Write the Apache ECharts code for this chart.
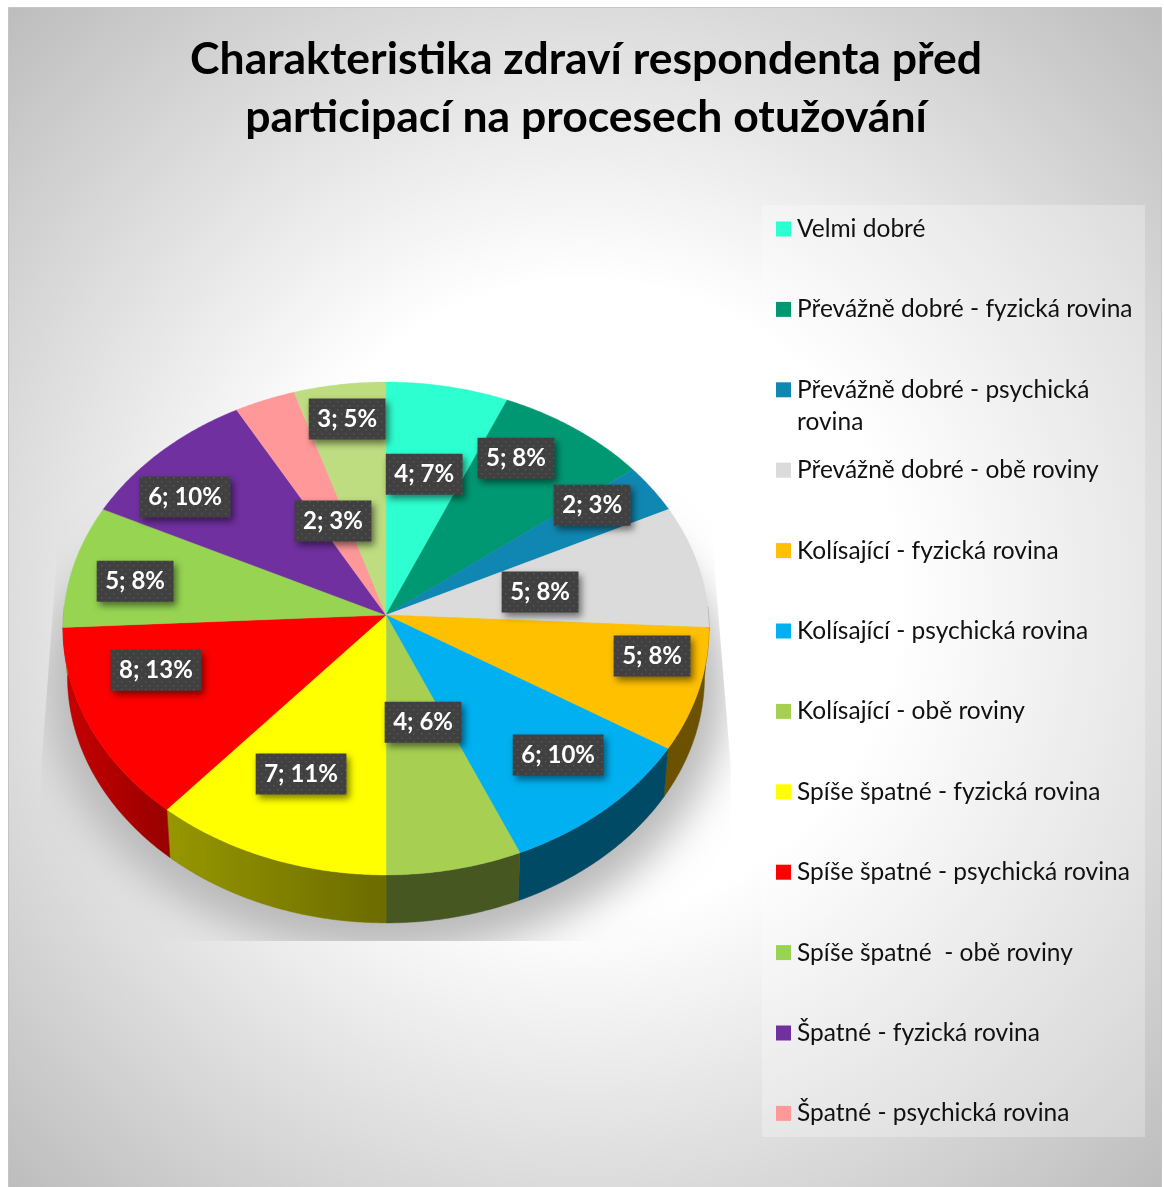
<!DOCTYPE html>
<html><head><meta charset="utf-8">
<script src="https://cdn.jsdelivr.net/npm/echarts@6/dist/echarts.min.js"></script>
<style>html,body{margin:0;padding:0;background:#fff}#c{width:1164px;height:1187px}</style>
</head><body><div id="c"></div>
<script>
const titleLines = ['Charakteristika zdraví respondenta před', 'participací na procesech otužování'];
const categories = ['Velmi dobré','Převážně dobré - fyzická rovina','Převážně dobré - psychická rovina','Převážně dobré - obě roviny','Kolísající - fyzická rovina','Kolísající - psychická rovina','Kolísající - obě roviny','Spíše špatné - fyzická rovina','Spíše špatné - psychická rovina','Spíše špatné  - obě roviny','Špatné - fyzická rovina','Špatné - psychická rovina','Špatné - obě roviny'];
const counts = [4,5,2,5,5,6,4,7,8,5,6,2,3];
const percents = [7,8,3,8,8,10,6,11,13,8,10,3,5];
const colors = ['#2DFFD0','#009873','#0F87B2','#DBDBDB','#FFC000','#00B0F0','#A7D052','#FFFF00','#FF0000','#96D452','#7030A0','#FF9999','#BEDC80'];
// label anchors: [angle in degrees, fraction of radius]
const labelAnchors = [[11,.62],[30.7,.788],[53.3,.796],[77.8,.488],[100.6,.838],[135.1,.755],[164.3,.424],[203.4,.662],[253.7,.742],[280.9,.791],[309.4,.805],[338.1,.44],[351.9,.854]];
const legendCount = 12;

const total = counts.reduce((a,b)=>a+b,0);
const P = {cx:386, cy:615, rx:322.5, rxBottom:318, ry:245.7, k:0.0547, depth:48, labelRx:323, labelUp:233, labelDown:260};
const FONT = 'Lato';
const RAD = Math.PI/180;
// perspective projection of the disc rim
function rimPt(t, rx, dy){ const c=Math.cos(t), s=Math.sin(t), d=1+P.k*c;
  return [P.cx+rx*s/d, P.cy+dy-P.ry*c/d]; }
function labelPt(t, r){ const c=Math.cos(t), s=Math.sin(t);
  return [P.cx+P.labelRx*r*s, P.cy+1-(c>=0?P.labelUp:P.labelDown)*r*c]; }
function shade(hex,k){ const n=parseInt(hex.slice(1),16);
  return 'rgb('+[(n>>16)&255,(n>>8)&255,n&255].map(v=>Math.round(v*k)).join(',')+')'; }
function wallK(t){ const d=t/RAD; return d<=180?0.42:Math.min(0.8,0.42+(d-180)*0.0042); }
// dotted label pattern
const pc=document.createElement('canvas'); pc.width=pc.height=8;
(function(){const g=pc.getContext('2d'); g.fillStyle='#404040'; g.fillRect(0,0,8,8); g.fillStyle='#5a5a5a';
  g.fillRect(1,1,1.4,1.4); g.fillRect(5,5,1.4,1.4);})();
const mc=document.createElement('canvas').getContext('2d'); mc.font='bold 24px '+FONT;

function renderSlice(params, api){
  const i=params.seriesIndex, start=api.value(0), val=api.value(1);
  const a0=start/total*2*Math.PI, a1=(start+val)/total*2*Math.PI, n=Math.max(8,Math.ceil(val*12));
  const col=colors[i], face=[[P.cx,P.cy]];
  for(let k=0;k<=n;k++){ face.push(rimPt(a0+(a1-a0)*k/n,P.rx,0)); }
  const ch=[];
  if(i===0){ // soft shadow beneath the disc: only the blurred shadow of an off-page shape lands on the page
    const off=3000;
    ch.push({type:'group',clipPath:{type:'polygon',shape:{points:[[65,450],[705,450],[731,770],[731,941],[40,941],[41,770]]}},
      children:[{type:'polygon',z2:0,silent:true,
        shape:{points:Array.from({length:120},(_,k)=>{const t=k/120*2*Math.PI;const c=Math.cos(t);
          return [P.cx-off+340*Math.sin(t),P.cy+70-(c>=0?233:270)*c];})},
        style:{fill:'#000',shadowBlur:40,shadowOffsetX:off,shadowColor:'rgb(186,186,186)'}}]});
  }
  const w0=Math.max(a0,88*RAD), w1=Math.min(a1,272*RAD);
  if(w1>w0){
    const wt=[], wb=[];
    for(let k=0;k<=n;k++){ const t=w0+(w1-w0)*k/n; wt.push(rimPt(t,P.rx,0)); wb.push(rimPt(t,P.rxBottom,P.depth)); }
    const kL=wallK(w1), kR=wallK(w0), left=w1>Math.PI;
    ch.push({type:'polygon',z2:1,silent:true,shape:{points:wt.concat(wb.reverse())},style:{lineWidth:.5,stroke:shade(col,(kL+kR)/2),
      fill:{type:'linear',x:0,y:0,x2:1,y2:0,colorStops:[{offset:0,color:shade(col,left?kL:kR)},{offset:1,color:shade(col,left?kR:kL)}]}}});
  }
  ch.push({type:'polygon',z2:2,silent:true,shape:{points:face},style:{fill:col,stroke:col,lineWidth:.4}});
  const an=labelAnchors[i], lp=labelPt(an[0]*RAD,an[1]);
  const txt=val+'; '+percents[i]+'%', w=mc.measureText(txt).width+17, h=41;
  ch.push({type:'rect',z2:3,silent:true,shape:{x:lp[0]-w/2,y:lp[1]-h/2,width:w,height:h},
    style:{fill:{image:pc,repeat:'repeat'},shadowBlur:7,shadowOffsetX:3,shadowOffsetY:4,shadowColor:'rgba(0,0,0,.5)'}});
  ch.push({type:'text',z2:4,silent:true,x:lp[0],y:lp[1],style:{text:txt,fill:'#fff',font:'bold 24px '+FONT,align:'center',verticalAlign:'middle'}});
  return {type:'group',children:ch};
}

let cum=0;
const series=categories.map((name,i)=>{ const d=[cum,counts[i]]; cum+=counts[i];
  return {type:'custom',name,coordinateSystem:'none',renderItem:renderSlice,data:[d],itemStyle:{color:colors[i]},animation:false,silent:true,clip:false}; });

const chart=echarts.init(document.getElementById('c'),null,{renderer:'canvas'});
chart.setOption({
  animation:false,
  backgroundColor:'#ffffff',
  color:colors,
  title:{text:titleLines.join('\n'),left:581,top:26,textAlign:'center',textStyle:{fontFamily:FONT,fontWeight:'bold',fontSize:44.5,lineHeight:58,color:'#000'}},
  legend:{orient:'vertical',left:776,top:214,padding:0,itemWidth:15,itemHeight:15,itemGap:50.4,icon:'rect',selectedMode:false,
    data:categories.slice(0,legendCount),
    formatter:n=>n==='Převážně dobré - psychická rovina'?'Převážně dobré - psychická':n,
    textStyle:{fontFamily:FONT,fontSize:24.5,lineHeight:30,color:'#111',padding:[0,0,0,1]}},
  graphic:[
    {type:'rect',z:-10,silent:true,shape:{x:8.5,y:7.5,width:1153,height:1180},
      style:{stroke:'#c4c4c4',lineWidth:1,fill:{type:'radial',x:.5,y:.5,r:.72,colorStops:[{offset:0,color:'#fff'},{offset:.38,color:'#fff'},{offset:1,color:'#bcbcbc'}]}}},
    {type:'rect',z:-9,silent:true,shape:{x:762,y:205,width:383,height:932},style:{fill:'rgba(255,255,255,.28)'}},
    {type:'text',z:10,silent:true,x:797,y:422,style:{text:'rovina',font:'24.5px '+FONT,fill:'#111',verticalAlign:'middle'}}
  ],
  series
});
</script></body></html>
